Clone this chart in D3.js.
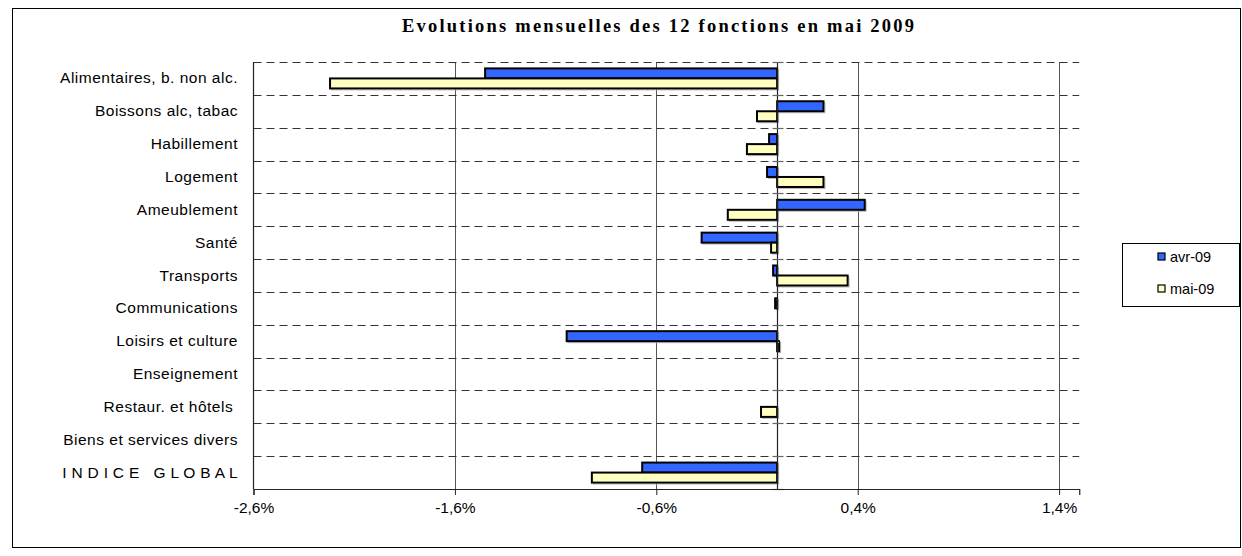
<!DOCTYPE html>
<html><head><meta charset="utf-8">
<script src="https://cdn.jsdelivr.net/npm/d3@7"></script>
<style>body{margin:0;background:#fff}svg{display:block}</style>
</head><body>
<script>
const categories = ["Alimentaires, b. non alc.","Boissons alc, tabac","Habillement","Logement","Ameublement","Santé","Transports","Communications","Loisirs et culture","Enseignement","Restaur. et hôtels ","Biens et services divers","I N D I C E   G L O B A L"];
const seriesNames = ["avr-09","mai-09"];
const avr09 = [-1.45, 0.23, -0.04, -0.05, 0.435, -0.375, -0.02, -0.01, -1.045, 0, 0, 0, -0.67];
const mai09 = [-2.22, -0.10, -0.15, 0.23, -0.245, -0.03, 0.35, 0, 0.01, 0, -0.08, 0, -0.92];
const xTicks = [-2.6, -1.6, -0.6, 0.4, 1.4];
const xDomain = [-2.6, 1.5];
const colors = ["#3366FF", "#FFFFC0"];
const title = "Evolutions mensuelles des 12 fonctions en mai 2009";

const W = 1242, H = 556;
const svg = d3.select("body").append("svg").attr("width", W).attr("height", H);
svg.append("rect").attr("x",12.5).attr("y",8.5).attr("width",1228).attr("height",539)
  .attr("fill","#fff").attr("stroke","#000").attr("stroke-width",1);

const plot = {l:253.5, t:62, b:489};
const x = d3.scaleLinear().domain(xDomain).range([plot.l, plot.l + (xDomain[1]-xDomain[0])*201.4]);
const y = d3.scaleBand().domain(categories).range([plot.t, plot.b]).paddingInner(0).paddingOuter(0);
const ys = d3.scaleBand().domain(seriesNames).range([0, y.bandwidth()]).paddingInner(0).paddingOuter(0.64);

svg.append("text").attr("x",658).attr("y",32).attr("text-anchor","middle")
  .attr("font-family","Liberation Serif, Times New Roman, serif").attr("font-weight","bold")
  .attr("font-size",18.5).attr("textLength",512).attr("lengthAdjust","spacing").text(title);

svg.append("g").selectAll("line").data(xTicks.slice(1)).join("line")
  .attr("x1",d=>Math.round(x(d))+0.5).attr("x2",d=>Math.round(x(d))+0.5)
  .attr("y1",plot.t).attr("y2",plot.b).attr("stroke","#555").attr("stroke-width",1);

const bounds = categories.map(c => y(c));
svg.append("g").selectAll("line").data(bounds).join("line")
  .attr("x1",plot.l).attr("x2",x(xDomain[1])).attr("y1",d=>Math.round(d)+0.5).attr("y2",d=>Math.round(d)+0.5)
  .attr("stroke","#333").attr("stroke-width",1).attr("stroke-dasharray","8,5");

const data = [];
categories.forEach((c,i)=>{ data.push({c, s:seriesNames[0], v:avr09[i], k:0}); data.push({c, s:seriesNames[1], v:mai09[i], k:1}); });
const barData = data.filter(d=>d.v!==0);
svg.append("g").selectAll("rect").data(barData).join("rect")
  .attr("x",d=>Math.min(x(0),x(d.v))+1.5).attr("y",d=>y(d.c)+ys(d.s)+1.5)
  .attr("width",d=>Math.abs(x(d.v)-x(0))).attr("height",ys.bandwidth())
  .attr("fill","none").attr("stroke","#bbb").attr("stroke-width",1);
svg.append("g").selectAll("rect").data(barData).join("rect")
  .attr("x",d=>Math.min(x(0),x(d.v))).attr("y",d=>y(d.c)+ys(d.s))
  .attr("width",d=>Math.max(1,Math.abs(x(d.v)-x(0)))).attr("height",ys.bandwidth())
  .attr("fill",d=>colors[d.k]).attr("stroke","#000").attr("stroke-width",2);

const x0 = Math.round(x(0))+0.5;
svg.append("line").attr("x1",x0).attr("x2",x0).attr("y1",plot.t).attr("y2",plot.b).attr("stroke","#222").attr("stroke-width",1.2);
svg.append("g").selectAll("line").data(bounds.concat([plot.b])).join("line")
  .attr("x1",x0-5).attr("x2",x0+6).attr("y1",d=>Math.round(d)+0.5).attr("y2",d=>Math.round(d)+0.5)
  .attr("stroke","#666").attr("stroke-width",1.2);

svg.append("line").attr("x1",plot.l).attr("x2",plot.l).attr("y1",plot.t).attr("y2",plot.b).attr("stroke","#222").attr("stroke-width",1.2);

const xAxis = d3.axisBottom(x).tickValues(xTicks).tickSize(6).tickPadding(7)
  .tickFormat(d => d3.format(".1f")(d).replace("−","-").replace(".", ",") + "%");
const gx = svg.append("g").attr("transform",`translate(0,${plot.b})`).call(xAxis);
gx.select(".domain").attr("stroke","#222").attr("stroke-width",1.2);
gx.selectAll(".tick line").attr("stroke","#222");
gx.selectAll("text").attr("font-family","Liberation Sans, Arial, sans-serif").attr("font-size",15.5).attr("fill","#000");

svg.append("g").selectAll("text").data(categories).join("text")
  .attr("x",238).attr("y",d=>y(d)+y.bandwidth()/2+5).attr("text-anchor","end")
  .attr("font-family","Liberation Sans, Arial, sans-serif").attr("font-size",15.5)
  .attr("letter-spacing",(d,i)=> i===12 ? 0.3 : 0.5)
  .style("white-space","pre").text(d=>d);

const lg = svg.append("g");
lg.append("rect").attr("x",1122.5).attr("y",243.5).attr("width",117).attr("height",63)
  .attr("fill","#fff").attr("stroke","#000").attr("stroke-width",1);
const li = lg.selectAll("g").data(seriesNames).join("g")
  .attr("transform",(d,i)=>`translate(1158,${257 + i*32})`);
li.append("rect").attr("x",0).attr("y",-4).attr("width",7).attr("height",7)
  .attr("fill",(d,i)=>colors[i]).attr("stroke","#000").attr("stroke-width",1.2);
li.append("text").attr("x",12).attr("y",5).attr("font-family","Liberation Sans, Arial, sans-serif")
  .attr("font-size",14.5).text(d=>d);
</script>
</body></html>
